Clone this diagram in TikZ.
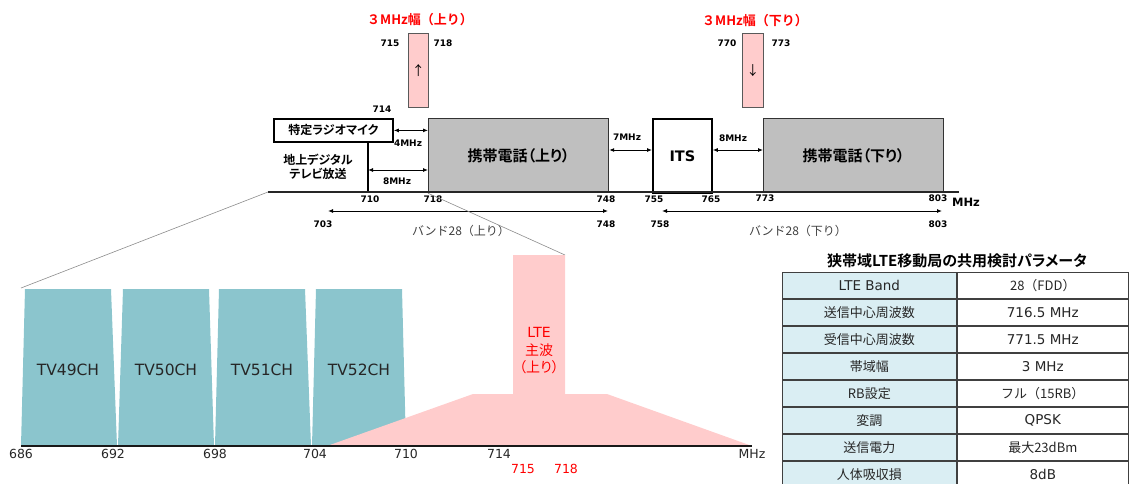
\documentclass[tikz,border=0pt]{standalone}
\usepackage{fontspec}
\setmainfont{Noto Sans CJK JP}[RawFeature=+palt, BoldFont={Noto Sans CJK JP Bold}]
\newfontfamily\cjkwide{Noto Sans CJK JP}[BoldFont={Noto Sans CJK JP Bold}]
\newfontfamily\latin{DejaVu Sans}
\usetikzlibrary{arrows.meta, positioning}

\definecolor{tvcol}{RGB}{139,197,205}
\definecolor{ltecol}{RGB}{255,204,204}
\definecolor{boxgray}{RGB}{191,191,191}
\definecolor{cellblue}{RGB}{218,238,243}
\definecolor{redtxt}{RGB}{255,0,0}

\tikzset{
    lbl/.style={inner sep=0pt, font=\latin\bfseries\fontsize{9}{11}\selectfont},
    axlbl/.style={inner sep=0pt, font=\latin\fontsize{12.5}{15}\selectfont, text=black!85},
    tvlbl/.style={inner sep=0pt, text=black!85, font=\latin\fontsize{15.5}{18}\selectfont},
    bandbox/.style={draw=black!80, line width=1.2pt, fill=boxgray, minimum width=180pt, minimum height=74pt,
        inner sep=0pt, anchor=north west, font=\bfseries\fontsize{15}{17}\selectfont},
    freebox/.style={draw=black, line width=1.8pt, fill=white, inner sep=0pt, anchor=north west},
    widthbox/.style={draw=black!65, line width=0.8pt, fill=ltecol, minimum width=20pt, minimum height=74pt,
        inner sep=0pt, anchor=north west, font=\fontsize{13}{15}\selectfont},
    redtitle/.style={inner sep=0pt, text=redtxt, font=\cjkwide\bfseries\fontsize{13}{15}\selectfont},
    bandlbl/.style={inner sep=0pt, text=black!75, font=\cjkwide\fontsize{12}{14}\selectfont},
    dimarrow/.style={{Latex[length=5pt,width=4pt]}-{Latex[length=5pt,width=4pt]}, line width=0.9pt},
    chan/.style={fill=tvcol, draw=none},
    keycell/.style={draw=black!75, line width=0.7pt, fill=cellblue, minimum width=174pt, minimum height=26.25pt,
        inner sep=0pt, anchor=north west, text=black!85, font=\fontsize{13}{15}\selectfont},
    valcell/.style={keycell, fill=white, minimum width=171.5pt},
    latincell/.style={font=\latin\fontsize{13.5}{15}\selectfont},
    widecell/.style={font=\cjkwide\fontsize{13}{15}\selectfont},
    zoomline/.style={draw=black!45, line width=0.6pt}
}

\begin{document}
\begin{tikzpicture}[x=1pt, y=-1pt]
    \useasboundingbox (0,0) rectangle (1129,483);
    % --- upper band plan
    \coordinate (axL) at (268,192);
    \coordinate (axR) at (959,192);
    \coordinate (y150) at (0,150);
    \node[freebox, minimum width=119pt, minimum height=23pt, font=\bfseries\fontsize{12}{14}\selectfont] (mic) at (273,118) {特定ラジオマイク};
    \node[inner sep=0pt, align=center, font=\bfseries\fontsize{12}{14}\selectfont] (dtv) at (318,167) {地上デジタル\\テレビ放送};
    \coordinate (dtvT) at (368,141);
    \coordinate (dtvB) at (368,192);
    \draw[line width=1.8pt] (dtvT) -- (dtvB);
    \node[bandbox] (up) at (428,118) {携帯電話（上り）};
    \node[freebox, minimum width=59pt, minimum height=74pt, font=\latin\bfseries\fontsize{14.5}{17}\selectfont] (its) at (652,118) {ITS};
    \node[bandbox] (down) at (763,118) {携帯電話（下り）};
    \draw[line width=1.8pt, black!85] (axL) -- (axR);
    \node[inner sep=0pt, font=\latin\bfseries\fontsize{11.5}{14}\selectfont] (mhzU) at (966,202) {MHz};

    % 3MHz width
    \node[widthbox] (wu) at (408,33) {↑};
    \node[widthbox, minimum width=21pt] (wd) at (742,33) {↓};
    \node[redtitle] (wuT) at (420,20) {３MHz幅（上り）};
    \node[redtitle] (wdT) at (755,21) {３MHz幅（下り）};
    \node[lbl] (n715) at (390,43) {715};
    \node[lbl] (n718) at (443,43) {718};
    \node[lbl] (n770) at (727,43) {770};
    \node[lbl] (n773) at (781,43) {773};
    \node[lbl] (n714) at (382,109) {714};

    % guard bands
    \draw[dimarrow] (mic.east) -- (up.west |- mic.east);
    \node[lbl] (g4) at (408,143) {4MHz};
    \coordinate (y170) at (0,170);
    \draw[dimarrow] (dtvT |- y170) -- (up.west |- y170);
    \node[lbl] (g8) at (397,181) {8MHz};
    \draw[dimarrow] (up.east |- y150) -- (its.west |- y150);
    \node[lbl] (g7) at (627,137) {7MHz};
    \draw[dimarrow] (its.east |- y150) -- (down.west |- y150);
    \node[lbl] (g8b) at (733,138) {8MHz};

    % axis labels
    \node[lbl] (t710) at (370,199) {710};
    \node[lbl] (t718) at (433,199) {718};
    \node[lbl] (t748) at (606,199) {748};
    \node[lbl] (t755) at (654,199) {755};
    \node[lbl] (t765) at (711,199) {765};
    \node[lbl] (t773) at (765,198) {773};
    \node[lbl] (t803) at (938,198) {803};

    % band 28
    \coordinate (b703) at (328,211);
    \coordinate (b748) at (608,211);
    \coordinate (b758) at (662,211);
    \coordinate (b803) at (942,211);
    \draw[dimarrow] (b703) -- (b748);
    \draw[dimarrow] (b758) -- (b803);
    \node[lbl] (s703) at (323,224) {703};
    \node[lbl] (s748) at (606,224) {748};
    \node[lbl] (s758) at (660,224) {758};
    \node[lbl] (s803) at (938,224) {803};
    \node[bandlbl] (bandU) at (461,231) {バンド28（上り）};
    \node[bandlbl] (bandD) at (798,231) {バンド28（下り）};

    % --- lower spectrum
    \coordinate (tvTop) at (21,288);
    \coordinate (lteTop) at (565,255);
    \draw[zoomline] (axL) -- (tvTop);
    \draw[zoomline] (up.south west) -- (lteTop);
    \fill[chan] (21,446) -- (25,289) -- (111,289) -- (117,446) -- cycle;
    \fill[chan] (118,446) -- (123,289) -- (209,289) -- (214,446) -- cycle;
    \fill[chan] (215,446) -- (219,289) -- (305,289) -- (311,446) -- cycle;
    \fill[chan] (312,446) -- (316,289) -- (402,289) -- (406,446) -- cycle;
    \fill[ltecol] (327,446) -- (473,394) -- (513,394) -- (513,255) -- (lteTop) -- (565,394) -- (607,394) -- (752,446) -- cycle;
    \node[tvlbl] (tv49) at (68,370) {TV49CH};
    \node[tvlbl] (tv50) at (166,370) {TV50CH};
    \node[tvlbl] (tv51) at (262,370) {TV51CH};
    \node[tvlbl] (tv52) at (359,370) {TV52CH};
    \node[inner sep=0pt, align=center, text=redtxt, font=\fontsize{14}{17.5}\selectfont] (lte) at (539,351) {{\latin LTE}\\主波\\（上り）};
    \coordinate (lowL) at (21,446);
    \coordinate (lowR) at (752,446);
    \draw[line width=2.2pt, black!90] (lowL) -- (lowR);
    \node[axlbl] (x686) at (21,454) {686};
    \node[axlbl] (x692) at (113,454) {692};
    \node[axlbl] (x698) at (215,454) {698};
    \node[axlbl] (x704) at (315,454) {704};
    \node[axlbl] (x710) at (406,454) {710};
    \node[axlbl] (x714) at (499,454) {714};
    \node[axlbl] (xmhz) at (752,454) {MHz};
    \node[axlbl, text=redtxt] (x715) at (523,469) {715};
    \node[axlbl, text=redtxt] (x718) at (566,469) {718};

    % --- parameter table
    \node[inner sep=0pt, font=\bfseries\fontsize{15}{17}\selectfont] (ttl) at (957,261) {狭帯域LTE移動局の共用検討パラメータ};
    \node[keycell, latincell] (k1) at (782,272) {LTE Band};
    \node[valcell, widecell, right=0pt of k1] (v1) {28（FDD）};
    \node[keycell, below=0pt of k1] (k2) {送信中心周波数};
    \node[valcell, latincell, right=0pt of k2] (v2) {716.5 MHz};
    \node[keycell, below=0pt of k2] (k3) {受信中心周波数};
    \node[valcell, latincell, right=0pt of k3] (v3) {771.5 MHz};
    \node[keycell, below=0pt of k3] (k4) {帯域幅};
    \node[valcell, latincell, right=0pt of k4] (v4) {3 MHz};
    \node[keycell, below=0pt of k4] (k5) {RB設定};
    \node[valcell, widecell, right=0pt of k5] (v5) {フル（15RB）};
    \node[keycell, below=0pt of k5] (k6) {変調};
    \node[valcell, latincell, right=0pt of k6] (v6) {QPSK};
    \node[keycell, below=0pt of k6] (k7) {送信電力};
    \node[valcell, right=0pt of k7] (v7) {最大23dBm};
    \node[keycell, below=0pt of k7] (k8) {人体吸収損};
    \node[valcell, latincell, right=0pt of k8] (v8) {8dB};
\end{tikzpicture}
\end{document}
